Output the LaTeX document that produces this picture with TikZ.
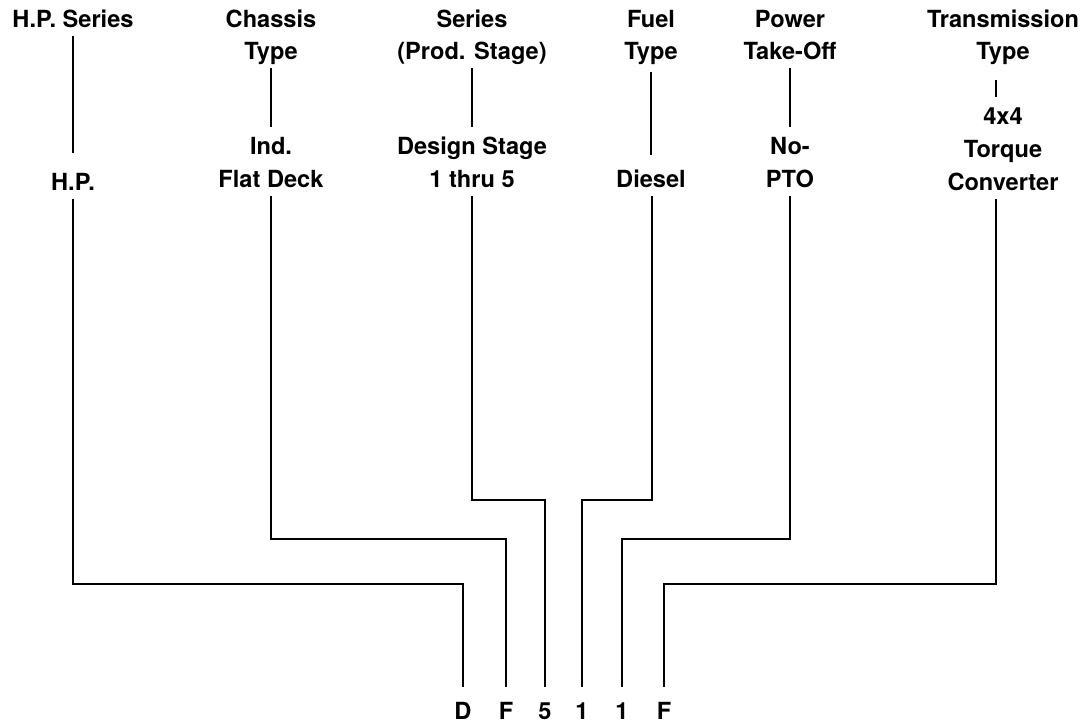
\documentclass[tikz,border=0pt]{standalone}
\usepackage{fontspec}
\setmainfont{TeX Gyre Heros}

\begin{document}
\begin{tikzpicture}[x=0.5pt, y=-0.5pt,
        lbl/.style={anchor=base, font=\bfseries\fontsize{11.8}{14}\selectfont, inner xsep=1pt, inner ysep=2pt, text height=11.75pt, text depth=2.25pt},
        code/.style={lbl},
        wire/.style={line width=1.4pt, black}
    ]
        \useasboundingbox (0,0) rectangle (1081,725);

        % Bend rows
        \coordinate (rowA) at (0,500);
        \coordinate (rowB) at (0,539);
        \coordinate (rowC) at (0,584);

        % H.P. Series
        \node[lbl] (hpHead) at (73,27.5) {H.P. Series};
        \node[lbl] (hpVal) at (73,190.5) {H.P.};

        % Chassis Type
        \node[lbl] (chHead) at (271,27.5) {Chassis};
        \node[lbl] (chType) at (271,59.5) {Type};
        \node[lbl] (chInd) at (271,154.5) {Ind.};
        \node[lbl] (chVal) at (271,187.5) {Flat Deck};

        % Series (Prod. Stage)
        \node[lbl] (serHead) at (472,27.5) {Series};
        \node[lbl] (serProd) at (472,59.5) {(Prod. Stage)};
        \node[lbl] (serDesign) at (472,154.5) {Design Stage};
        \node[lbl] (serVal) at (472,187.5) {1 thru 5};

        % Fuel Type
        \node[lbl] (fuHead) at (651,27.5) {Fuel};
        \node[lbl] (fuType) at (651,59.5) {Type};
        \node[lbl] (fuVal) at (651,187.5) {Diesel};

        % Power Take-Off
        \node[lbl] (ptHead) at (790,27.5) {Power};
        \node[lbl] (ptTake) at (790,59.5) {Take-Off};
        \node[lbl] (ptNo) at (790,154.5) {No-};
        \node[lbl] (ptVal) at (790,187.5) {PTO};

        % Transmission Type
        \node[lbl] (trHead) at (1003,27.5) {Transmission};
        \node[lbl] (trType) at (1003,59.5) {Type};
        \node[lbl] (trFour) at (1003,124.5) {4x4};
        \node[lbl] (trTorque) at (1003,157.5) {Torque};
        \node[lbl] (trVal) at (1003,190.5) {Converter};
        \coordinate (trTop) at ([xshift=-3.5pt]trType.south);
        \coordinate (trMid) at ([xshift=-3.5pt]trFour.north);
        \coordinate (trLine) at ([xshift=-3.5pt]trVal.south);

        % Model code
        \node[code] (codeD) at (463,719.5) {D};
        \node[code] (codeF) at (506,719.5) {F};
        \node[code] (codeFive) at (545,719.5) {5};
        \node[code] (codeOneA) at (582,719.5) {1};
        \node[code] (codeOneB) at (622,719.5) {1};
        \node[code] (codeFt) at (664,719.5) {F};

        % Upper ticks
        \draw[wire, shorten >=5pt] (hpHead) -- (hpVal);
        \draw[wire] (chType) -- (chInd);
        \draw[wire] (serProd) -- (serDesign);
        \draw[wire, shorten <=2pt, shorten >=2.5pt] (fuType) -- (fuVal);
        \draw[wire] (ptTake) -- (ptNo);
        \draw[wire, shorten <=6pt] (trTop) -- (trMid);

        % Connections to code
        \draw[wire, shorten >=2.5pt] (hpVal.south) -- (hpVal.south |- rowC) -| (codeD.north);
        \draw[wire, shorten >=2.5pt] (chVal.south) -- (chVal.south |- rowB) -| (codeF.north);
        \draw[wire, shorten >=2.5pt] (serVal.south) -- (serVal.south |- rowA) -| (codeFive.north);
        \draw[wire, shorten >=2.5pt] ([xshift=0.5pt]fuVal.south) -- ([xshift=0.5pt]fuVal.south |- rowA) -| (codeOneA.north);
        \draw[wire, shorten >=2.5pt] (ptVal.south) -- (ptVal.south |- rowB) -| (codeOneB.north);
        \draw[wire, shorten >=2.5pt] (trLine) -- (trLine |- rowC) -| (codeFt.north);
    \end{tikzpicture}
\end{document}
